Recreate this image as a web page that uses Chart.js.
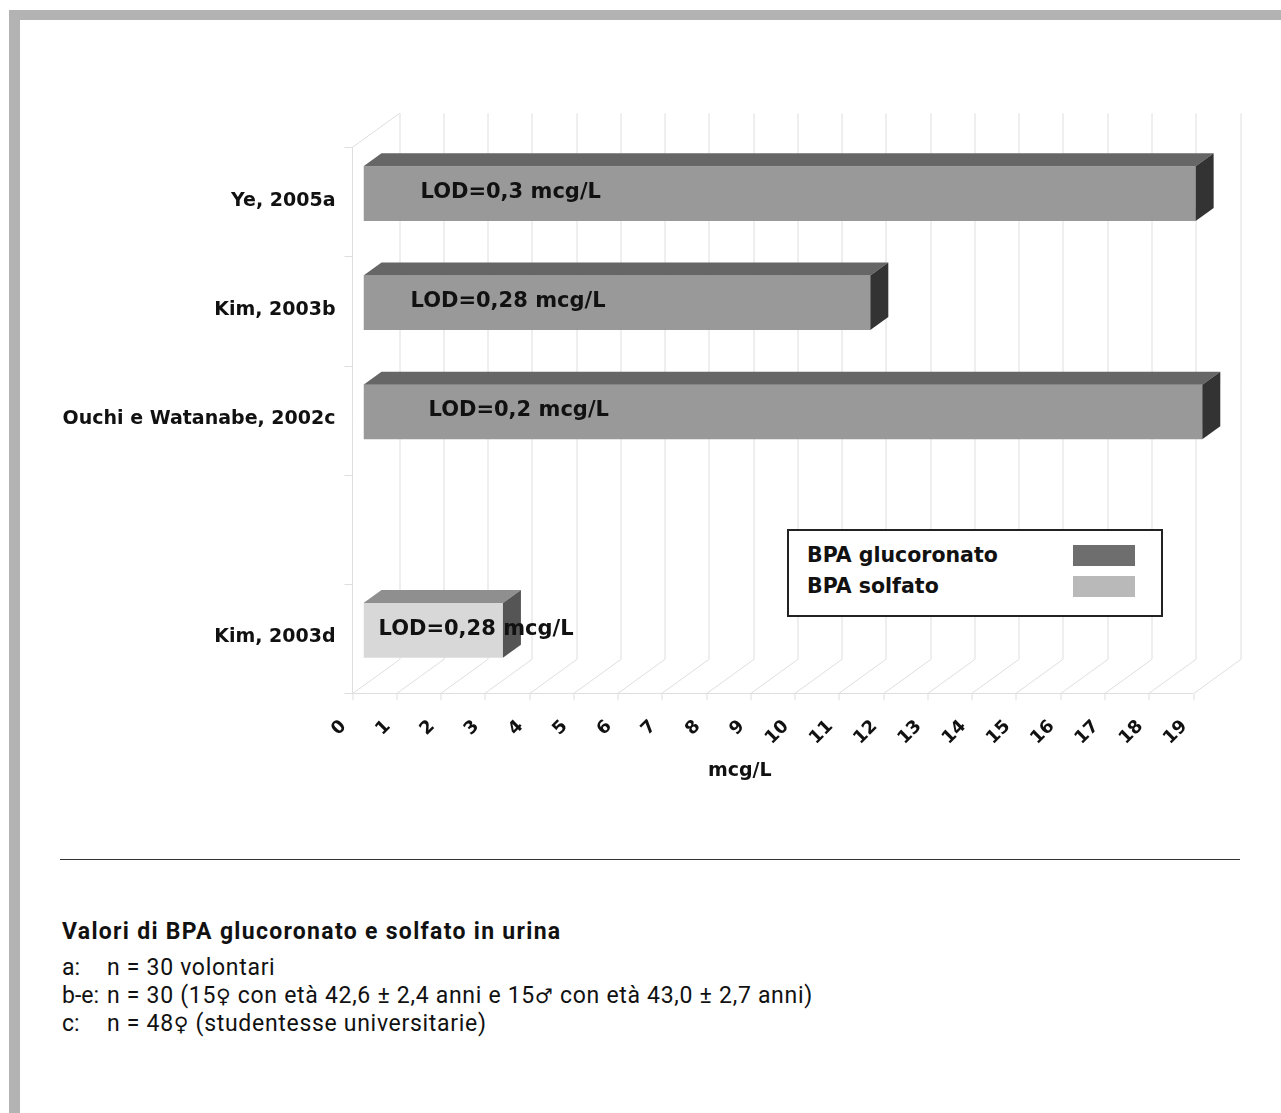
<!DOCTYPE html>
<html lang="it">
<head>
<meta charset="utf-8">
<title>Valori di BPA glucoronato e solfato in urina</title>
<script src="https://cdn.jsdelivr.net/npm/chart.js@4.4.1/dist/chart.umd.min.js"></script>
<style>
  html, body { margin: 0; padding: 0; background: #ffffff; }
  body { width: 1281px; height: 1113px; position: relative; overflow: hidden; }
  .frame-top { position: absolute; left: 9px; top: 10px; width: 1272px; height: 10px; background: #b3b3b3; }
  .frame-left { position: absolute; left: 9px; top: 10px; width: 11px; height: 1103px; background: #b3b3b3; }
  #chart { position: absolute; left: 0; top: 0; }
  .legend {
    position: absolute; left: 787px; top: 529px; width: 372px; height: 84px;
    border: 2px solid #222; background: #fff;
    font-family: "DejaVu Sans", sans-serif; font-weight: bold; font-size: 20.5px; color: #111;
  }
  .legend .row { position: absolute; left: 18px; height: 24px; line-height: 24px; width: 336px; }
  .legend .sw { position: absolute; right: 8px; top: 2px; width: 62px; height: 21px; }
  .rule { position: absolute; left: 60px; top: 859px; width: 1180px; height: 1px; background: #333; }
  .notes { position: absolute; left: 62px; top: 918px; font-family: Roboto, "Liberation Sans", sans-serif; color: #111; }
  .notes .title { font-weight: bold; font-size: 23px; line-height: 28px; letter-spacing: 1.3px; margin-bottom: 8px; }
  .notes .line { font-size: 23px; line-height: 28px; white-space: nowrap; letter-spacing: 0.7px; }
  .notes .key { display: inline-block; width: 45px; letter-spacing: 0; }
  .notes .sym { font-family: "DejaVu Sans", sans-serif; font-size: 20px; }
</style>
</head>
<body>
<div class="frame-top"></div>
<div class="frame-left"></div>
<canvas id="chart" width="1281" height="850"></canvas>
<div class="legend" id="legend"></div>
<div class="rule"></div>
<div class="notes">
  <div class="title">Valori di BPA glucoronato e solfato in urina</div>
  <div class="line"><span class="key">a:</span>n = 30 volontari</div>
  <div class="line"><span class="key">b-e:</span>n = 30 (15<span class="sym">♀</span> con età 42,6 ± 2,4 anni e 15<span class="sym">♂</span> con età 43,0 ± 2,7 anni)</div>
  <div class="line"><span class="key">c:</span>n = 48<span class="sym">♀</span> (studentesse universitarie)</div>
</div>
<script>
// Studies (top to bottom); the fourth row is an empty slot in the original layout
const studies = ['Ye, 2005a', 'Kim, 2003b', 'Ouchi e Watanabe, 2002c', '', 'Kim, 2003d'];
// Urinary BPA values, mcg/L
const glucuronideValues = [18.8, 11.45, 18.95, null, null];
const sulfateValues = [null, null, null, null, 3.15];
// Limit of detection reported for each study
const lodLabels = ['LOD=0,3 mcg/L', 'LOD=0,28 mcg/L', 'LOD=0,2 mcg/L', '', 'LOD=0,28 mcg/L'];
const seriesNames = ['BPA glucoronato', 'BPA solfato'];
const xTickValues = [0, 1, 2, 3, 4, 5, 6, 7, 8, 9, 10, 11, 12, 13, 14, 15, 16, 17, 18, 19];
const axisTitle = 'mcg/L';

// Shading used for the faces of each 3D bar
const faceColors = [
  { front: '#999999', top: '#666666', side: '#333333', key: '#6e6e6e' },
  { front: '#d8d8d8', top: '#8f8f8f', side: '#555555', key: '#b9b9b9' }
];

const FONT = '"DejaVu Sans", sans-serif';
// Depth offsets of the 3D box relative to the plane of the bar fronts
const FRONT = { dx: -11.5, dy: 8.3 };
const BACK = { dx: 35.5, dy: -25.7 };
const BAR_DEPTH = { dx: 18, dy: -13 };
// Horizontal inset of each LOD caption from the start of its bar
const lodInset = [57, 47, 65, 0, 15];

const wallsPlugin = {
  id: 'walls3d',
  beforeDatasetsDraw(chart) {
    const { ctx, chartArea: a, scales: { x, y } } = chart;
    ctx.save();
    ctx.lineWidth = 1;
    ctx.strokeStyle = '#dedede';
    const x0 = x.getPixelForValue(x.min);
    const x1 = x.getPixelForValue(x.max);
    // back wall verticals and floor diagonals
    xTickValues.forEach(v => {
      const px = Math.round(x.getPixelForValue(v)) + 0.5;
      ctx.beginPath();
      ctx.moveTo(px + BACK.dx, a.top + BACK.dy);
      ctx.lineTo(px + BACK.dx, a.bottom + BACK.dy);
      ctx.lineTo(px + FRONT.dx, a.bottom + FRONT.dy);
      ctx.lineTo(px + FRONT.dx, a.bottom + FRONT.dy + 7);
      ctx.stroke();
    });
    // floor front edge
    ctx.beginPath();
    ctx.moveTo(x0 + FRONT.dx, Math.round(a.bottom + FRONT.dy) + 0.5);
    ctx.lineTo(x1 + FRONT.dx, Math.round(a.bottom + FRONT.dy) + 0.5);
    ctx.stroke();
    // left wall
    const lx = Math.round(x0 + FRONT.dx) + 0.5;
    ctx.beginPath();
    ctx.moveTo(lx, a.bottom + FRONT.dy);
    ctx.lineTo(lx, a.top + FRONT.dy);
    ctx.lineTo(lx + BACK.dx - FRONT.dx, a.top + BACK.dy);
    ctx.stroke();
    // category boundary ticks on the left wall
    const step = (y.getPixelForValue(1) - y.getPixelForValue(0));
    for (let i = 0; i <= studies.length; i++) {
      const py = Math.round(y.getPixelForValue(0) - step / 2 + i * step + FRONT.dy) + 0.5;
      ctx.beginPath();
      ctx.moveTo(lx - 8, py);
      ctx.lineTo(lx, py);
      ctx.stroke();
    }
    ctx.restore();
  },
  afterDatasetsDraw(chart) {
    const { ctx } = chart;
    ctx.save();
    chart.data.datasets.forEach((ds, di) => {
      const meta = chart.getDatasetMeta(di);
      const c = faceColors[di];
      meta.data.forEach((bar, i) => {
        if (ds.data[i] === null || ds.data[i] === undefined) return;
        const p = bar.getProps(['x', 'y', 'base', 'height'], true);
        const left = p.base, right = p.x;
        const top = p.y - p.height / 2, bottom = p.y + p.height / 2;
        // top face
        ctx.fillStyle = c.top;
        ctx.beginPath();
        ctx.moveTo(left, top);
        ctx.lineTo(left + BAR_DEPTH.dx, top + BAR_DEPTH.dy);
        ctx.lineTo(right + BAR_DEPTH.dx, top + BAR_DEPTH.dy);
        ctx.lineTo(right, top);
        ctx.closePath();
        ctx.fill();
        // side face
        ctx.fillStyle = c.side;
        ctx.beginPath();
        ctx.moveTo(right, top);
        ctx.lineTo(right + BAR_DEPTH.dx, top + BAR_DEPTH.dy);
        ctx.lineTo(right + BAR_DEPTH.dx, bottom + BAR_DEPTH.dy);
        ctx.lineTo(right, bottom);
        ctx.closePath();
        ctx.fill();
        // LOD caption
        ctx.fillStyle = '#111111';
        ctx.font = 'bold 21px ' + FONT;
        ctx.textAlign = 'left';
        ctx.textBaseline = 'middle';
        ctx.fillText(lodLabels[i], left + lodInset[i], p.y - 1);
      });
    });
    ctx.restore();
  },
  afterDraw(chart) {
    const { ctx, scales: { x } } = chart;
    ctx.save();
    ctx.fillStyle = '#111111';
    ctx.font = 'bold 19px ' + FONT;
    ctx.textAlign = 'center';
    ctx.textBaseline = 'middle';
    ctx.fillText(axisTitle, x.getPixelForValue(8.5), 771);
    ctx.restore();
  }
};

const chart = new Chart(document.getElementById('chart'), {
  type: 'bar',
  data: {
    labels: studies,
    datasets: [
      { label: seriesNames[0], data: glucuronideValues, backgroundColor: faceColors[0].front },
      { label: seriesNames[1], data: sulfateValues, backgroundColor: faceColors[1].front }
    ]
  },
  options: {
    indexAxis: 'y',
    responsive: false,
    animation: false,
    layout: { padding: { left: 0, top: 139, right: 76.5, bottom: 0 } },
    datasets: { bar: { categoryPercentage: 1, barPercentage: 0.5 } },
    plugins: { legend: { display: false }, tooltip: { enabled: false } },
    scales: {
      x: {
        stacked: true,
        min: 0,
        max: 19,
        border: { display: false },
        grid: { display: false, drawTicks: false },
        afterBuildTicks(scale) { scale.ticks = xTickValues.map(v => ({ value: v })); },
        afterFit(scale) { scale.height = 165; },
        ticks: {
          autoSkip: false,
          minRotation: 45,
          maxRotation: 45,
          padding: 31,
          labelOffset: -20,
          color: '#111111',
          font: { family: FONT, weight: 'bold', size: 18 }
        }
      },
      y: {
        stacked: true,
        border: { display: false },
        grid: { display: false, drawTicks: false },
        afterFit(scale) { scale.width = 363.5; },
        ticks: {
          padding: 28,
          labelOffset: 7,
          color: '#111111',
          font: { family: FONT, weight: 'bold', size: 19 }
        }
      }
    }
  },
  plugins: [wallsPlugin]
});

// Legend box built from the dataset names and key colours
const legendEl = document.getElementById('legend');
seriesNames.forEach((name, i) => {
  const row = document.createElement('div');
  row.className = 'row';
  row.style.top = (12 + i * 31) + 'px';
  row.textContent = name;
  const sw = document.createElement('div');
  sw.className = 'sw';
  sw.style.background = faceColors[i].key;
  row.appendChild(sw);
  legendEl.appendChild(row);
});
</script>
</body>
</html>
